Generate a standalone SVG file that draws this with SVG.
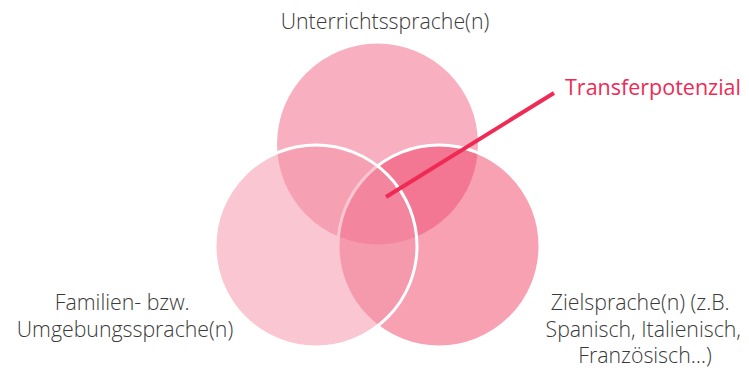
<svg xmlns="http://www.w3.org/2000/svg" width="749" height="368" viewBox="0 0 749 368">
  <style>
    .label { font-family: "Open Sans", "Liberation Sans", sans-serif; font-weight: 300; font-size: 21.3px; fill: #3a3a3a; }
    .accent { font-family: "Open Sans", "Liberation Sans", sans-serif; font-weight: 400; font-size: 21.5px; fill: #ee2a55; }
    .ring { stroke: #ffffff; stroke-width: 3; }
  </style>
  <rect width="749" height="368" fill="#ffffff"/>

  <!-- Venn circles -->
  <g id="unterrichtssprache">
    <circle cx="377.5" cy="144" r="100.5" fill="#f8b0c0"/>
    <text class="label" x="385" y="29" text-anchor="middle">Unterrichtssprache(n)</text>
  </g>
  <g id="zielsprache">
    <circle class="ring" cx="439" cy="246" r="101" fill="#ee375d" fill-opacity="0.47"/>
    <text class="label" text-anchor="middle">
      <tspan x="643" y="310">Zielsprache(n) (z.B.</tspan>
      <tspan x="646" y="337">Spanisch, Italienisch,</tspan>
      <tspan x="645" y="363">Französisch…)</tspan>
    </text>
  </g>
  <g id="familiensprache">
    <circle class="ring" cx="316" cy="246" r="101" fill="#f494a8" fill-opacity="0.53"/>
    <text class="label" text-anchor="middle">
      <tspan x="125" y="310">Familien- bzw.</tspan>
      <tspan x="125" y="337">Umgebungssprache(n)</tspan>
    </text>
  </g>

  <!-- pointer to the common centre -->
  <g id="connectors">
    <line x1="386" y1="197" x2="554" y2="93" stroke="#ee2a55" stroke-width="4"/>
  </g>
  <g id="transferpotenzial">
    <text class="accent" x="565" y="95">Transferpotenzial</text>
  </g>
</svg>
